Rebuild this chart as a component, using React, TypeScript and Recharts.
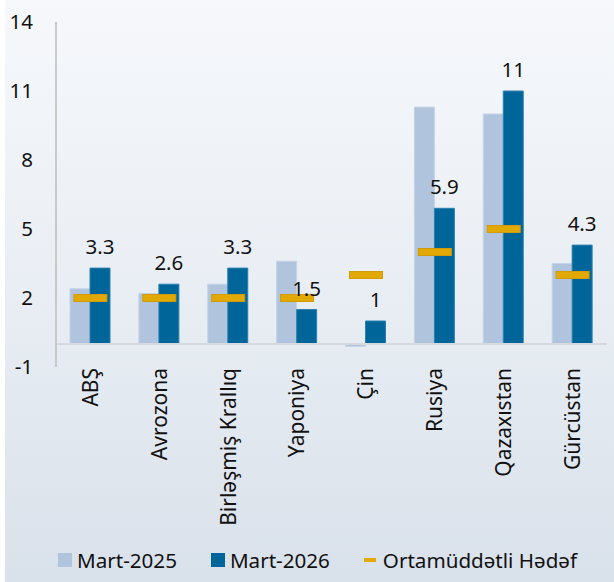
import React from "react";
import {
  ComposedChart,
  Bar,
  Scatter,
  XAxis,
  YAxis,
  ReferenceLine,
  LabelList,
} from "recharts";

const categories = [
  "ABŞ",
  "Avrozona",
  "Birləşmiş Krallıq",
  "Yaponiya",
  "Çin",
  "Rusiya",
  "Qazaxıstan",
  "Gürcüstan",
];
const mart2025 = [2.4, 2.2, 2.6, 3.6, -0.1, 10.3, 10.0, 3.5];
const mart2026 = [3.3, 2.6, 3.3, 1.5, 1, 5.9, 11, 4.3];
const target = [2, 2, 2, 2, 3, 4, 5, 3];
const yTicks = [-1, 2, 5, 8, 11, 14];
const seriesNames = ["Mart-2025", "Mart-2026", "Ortamüddətli Hədəf"];

const data = categories.map((c, i) => ({
  name: c,
  m25: mart2025[i],
  m26: mart2026[i],
  target: target[i],
}));

const FONT = "'Noto Sans', 'Open Sans', sans-serif";
const LIGHT = "#B0C4DE";
const DARK = "#00669A";
const GOLD = "#E2A905";

const XTick = (props: any) => {
  const { x, y, payload } = props;
  return (
    <text
      x={x}
      y={y}
      transform={`rotate(-90, ${x}, ${y})`}
      textAnchor="end"
      dy="0.35em"
      fontSize={21}
      fontFamily={FONT}
      fill="#111"
    >
      {payload.value}
    </text>
  );
};

const TargetShape = (props: any) => {
  const { cx, cy } = props;
  if (cx == null || cy == null) return null;
  return (
    <rect
      x={cx - 16.5}
      y={cy - 3.5}
      width={33}
      height={7}
      fill={GOLD}
      stroke="#D09A08"
      strokeWidth={1}
    />
  );
};

const Legend = () => (
  <div
    style={{
      position: "absolute",
      left: 58,
      top: 546,
      display: "flex",
      alignItems: "center",
      gap: 34,
      fontFamily: FONT,
      fontSize: 20.6,
      color: "#111",
      whiteSpace: "nowrap",
    }}
  >
    {seriesNames.map((n, i) => (
      <div key={n} style={{ display: "flex", alignItems: "center" }}>
        {i < 2 ? (
          <span
            style={{
              display: "inline-block",
              width: 14,
              height: 14,
              background: i === 0 ? LIGHT : DARK,
              marginRight: 5,
            }}
          />
        ) : (
          <span
            style={{
              display: "inline-block",
              width: 12,
              height: 4,
              background: GOLD,
              marginRight: 7,
            }}
          />
        )}
        <span>{n}</span>
      </div>
    ))}
  </div>
);

export default function App() {
  return (
    <div
      style={{
        position: "absolute",
        left: 0,
        top: 0,
        width: 614,
        height: 582,
        background: "#ffffff",
        overflow: "hidden",
      }}
    >
      <div
        style={{
          position: "absolute",
          left: 5,
          top: 0,
          width: 609,
          height: 582,
          background: "linear-gradient(to bottom, #f6f8fb 0%, #e9eef4 50%, #d9e1ea 100%)",
        }}
      />
      <div style={{ position: "absolute", left: 0, top: 0 }}>
        <ComposedChart
          width={614}
          height={582}
          data={data}
          margin={{ top: 22, right: 7, bottom: 0, left: 0 }}
          barGap={0}
        >
          <XAxis
            dataKey="name"
            axisLine={false}
            tickLine={false}
            tickSize={0}
            tickMargin={1}
            height={215}
            interval={0}
            tick={<XTick />}
          />
          <YAxis
            domain={[-1, 14]}
            ticks={yTicks}
            width={56}
            axisLine={{ stroke: "#BDBDBD", strokeWidth: 1.5 }}
            tickLine={false}
            tickSize={0}
            tickMargin={23}
            tick={{ fontSize: 20.5, fontFamily: FONT, fill: "#111" }}
            interval={0}
          />
          <ReferenceLine y={0} stroke="#D6DAE0" strokeWidth={2} />
          <Bar
            dataKey="m25"
            name={seriesNames[0]}
            fill={LIGHT}
            stroke="#C4D3E6"
            strokeWidth={1}
            barSize={20}
            isAnimationActive={false}
          />
          <Bar
            dataKey="m26"
            name={seriesNames[1]}
            fill={DARK}
            stroke="#2C80B0"
            strokeWidth={1}
            barSize={20}
            isAnimationActive={false}
          >
            <LabelList
              dataKey="m26"
              position="top"
              offset={14}
              style={{ fontSize: 20.5, fontFamily: FONT, fill: "#111" }}
            />
          </Bar>
          <Scatter
            dataKey="target"
            name={seriesNames[2]}
            fill={GOLD}
            shape={<TargetShape />}
            isAnimationActive={false}
          />
        </ComposedChart>
      </div>
      <Legend />
    </div>
  );
}
